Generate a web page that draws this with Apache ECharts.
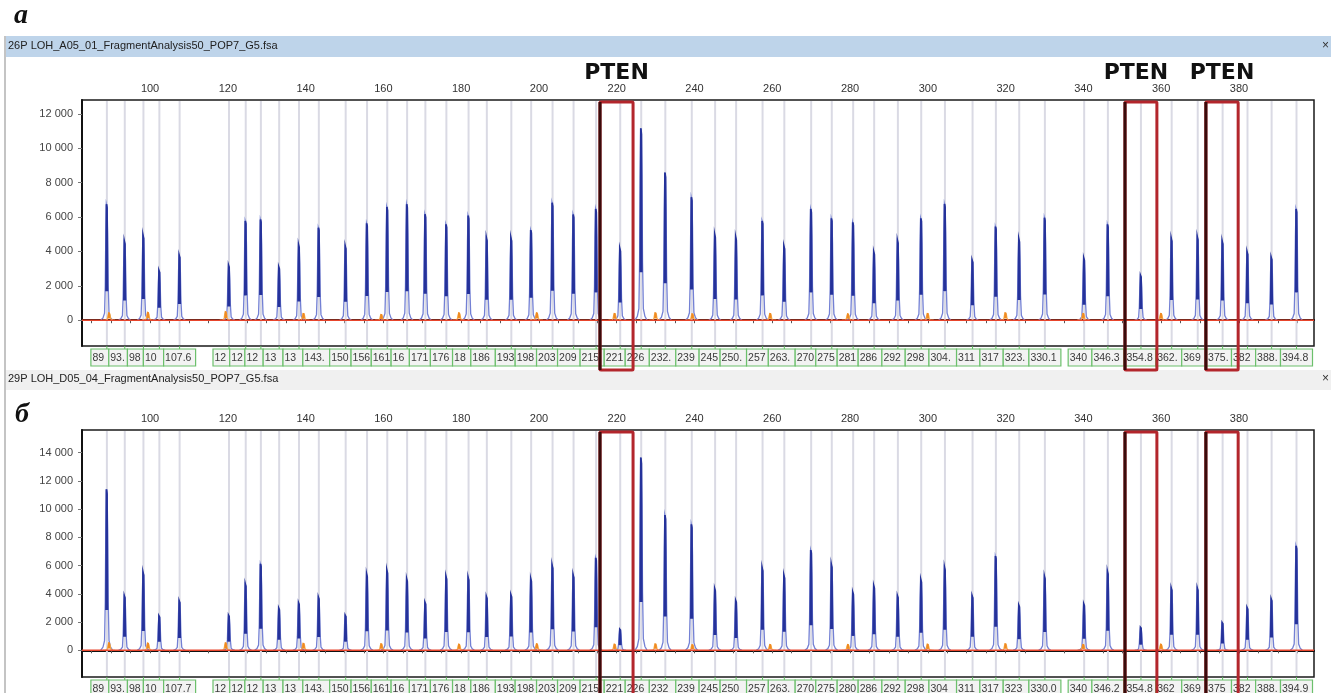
<!DOCTYPE html>
<html><head><meta charset="utf-8">
<script src="https://cdn.jsdelivr.net/npm/echarts@6/dist/echarts.min.js"></script>
<style>html,body{margin:0;padding:0;background:#fff;}#c{width:1331px;height:693px;}</style>
</head><body><div id="c"></div>
<script>
// ---- data ----
const sizes = [88.9, 93.5, 98.3, 102.4, 107.6, 120.3, 124.6, 128.5, 133.2, 138.3, 143.4, 150.3, 155.8, 161.0, 166.1, 170.8, 176.2, 181.9, 186.6, 192.9, 198.0, 203.5, 208.9, 214.7, 220.9, 226.3, 232.5, 239.3, 245.3, 250.7, 257.5, 263.1, 270.0, 275.3, 280.8, 286.2, 292.3, 298.3, 304.4, 311.5, 317.5, 323.5, 330.1, 340.2, 346.3, 354.8, 362.7, 369.4, 375.8, 382.2, 388.4, 394.8];
const heightsA = [6740, 4560, 4910, 2870, 3750, 3160, 5770, 5860, 3070, 4350, 5380, 4270, 5630, 6580, 6740, 6160, 5570, 6080, 4760, 4760, 5240, 6830, 6150, 6470, 4140, 11160, 8580, 7150, 4950, 4800, 5770, 4270, 6470, 5920, 5690, 3940, 4600, 5920, 6760, 3460, 5440, 4700, 5960, 3590, 5570, 2580, 4720, 4810, 4560, 3940, 3630, 6470];
const heightsB = [11400, 3830, 5490, 2410, 3480, 2460, 4660, 6120, 2960, 3340, 3740, 2460, 5370, 5630, 5020, 3360, 5200, 5130, 3780, 3900, 5040, 5980, 5300, 6550, 1470, 13650, 9580, 8920, 4330, 3500, 5800, 5270, 7100, 6030, 4090, 4540, 3830, 4970, 5840, 3830, 6670, 3170, 5200, 3260, 5540, 1610, 4380, 4380, 1940, 3000, 3600, 7400];
const labelsA = ['89','93.','98','10','107.6','12','12','12','13','13','143.','150','156','161','166','171','176','18','186','193','198','203','209','215','221','226','232.','239','245','250.','257','263.','270','275','281','286','292','298','304.','311','317','323.','330.1','340','346.3','354.8','362.','369','375.','382','388.','394.8'];
const labelsB = ['89','93.','98','10','107.7','12','12','12','13','13','143.','150','156','161','16','171','176','18','186','193','198','203','209','215','221','226','232','239','245','250','257','263.','270','275','280','286','292','298','304','311','317','323','330.0','340','346.2','354.8','362','369','375','382','388.','394.9'];
const stdSizes = [89.5, 99.5, 119.5, 139.5, 159.5, 179.5, 199.5, 219.5, 230.0, 239.5, 259.5, 279.5, 300.0, 320.0, 340.0, 360.0];
const stdA = [420, 450, 480, 380, 320, 420, 420, 380, 420, 360, 380, 360, 380, 420, 380, 380];
const stdB = [520, 500, 520, 480, 450, 420, 450, 420, 440, 380, 400, 400, 420, 450, 400, 420];
const ptenBoxes = [[215.7, 224.2], [350.7, 358.9], [371.5, 379.8]];
const ptenNames = ['PTEN', 'PTEN', 'PTEN'];
const xTicks = [100, 120, 140, 160, 180, 200, 220, 240, 260, 280, 300, 320, 340, 360, 380];
const xMinorTicks = [85,90,95,100,105,110,115,120,125,130,135,140,145,150,155,160,165,170,175,180,185,190,195,200,205,210,215,220,225,230,235,240,245,250,255,260,265,270,275,280,285,290,295,300,305,310,315,320,325,330,335,340,345,350,355,360,365,370,375,380,385,390,395];
const yTicksA = [0, 2000, 4000, 6000, 8000, 10000, 12000];
const yTicksB = [0, 2000, 4000, 6000, 8000, 10000, 12000, 14000];
const titleA = '26P LOH_A05_01_FragmentAnalysis50_POP7_G5.fsa';
const titleB = '29P LOH_D05_04_FragmentAnalysis50_POP7_G5.fsa';

// ---- rendering ----
const chart = echarts.init(document.getElementById('c'), null, {renderer: 'canvas'});
const FONT = '"Liberation Sans", Arial, sans-serif';
const fmt = v => String(v).replace(/\B(?=(\d{3})+(?!\d))/g, ' ');

const peakShape = [[-1.6,0],[-1.0,0.02],[-0.6,0.06],[-0.42,0.3],[-0.28,0.75],[-0.14,1],[0.06,0.97],[0.2,0.75],[0.34,0.3],[0.55,0.06],[0.95,0.02],[1.5,0]];
const coreShape = [[-0.22,0.25],[-0.1,1],[0.03,0.97],[0.15,0.25]];
function peakRenderer(light, dark, lw) {
  return function (params, api) {
    const p = api.value(0), h = api.value(1);
    const pts = peakShape.map(d => api.coord([p + d[0], d[1] * h]));
    const core = coreShape.map(d => api.coord([p + d[0], d[1] * h]));
    return {type: 'group', children: [
      {type: 'polyline', shape: {points: pts}, style: {stroke: light, fill: null, lineWidth: 1.3}},
      {type: 'polyline', shape: {points: core}, style: {stroke: dark, fill: null, lineWidth: lw}}
    ]};
  };
}
function vlineRenderer(params, api) {
  const x = api.coord([api.value(0), 0])[0];
  const cs = params.coordSys;
  return {type: 'line', shape: {x1: x, y1: cs.y + 1, x2: x, y2: cs.y + cs.height - 1},
    style: {stroke: '#DADAE4', lineWidth: 2}};
}
function labelRenderer(labels) {
  return function (params, api) {
    const i = api.value(2);
    const cs = params.coordSys;
    const x = api.coord([sizes[i], 0])[0];
    const half = 16;
    let left = x - half, right = x + half;
    if (i + 1 < sizes.length) {
      const xn = api.coord([sizes[i + 1], 0])[0];
      right = Math.min(right, xn - half);
    }
    const top = cs.y + cs.height + 3, h = 17;
    return {type: 'group', children: [
      {type: 'line', shape: {x1: x, y1: cs.y + cs.height, x2: x, y2: top}, style: {stroke: '#5DB85D', lineWidth: 1}},
      {type: 'rect', shape: {x: left, y: top, width: right - left, height: h},
        style: {fill: '#F3F3F3', stroke: '#6CC06C', lineWidth: 1.2}},
      {type: 'text', x: left + 1.5, y: top + h / 2 + 0.5,
        style: {text: labels[i], fill: '#3a3a3a', font: '10.5px ' + FONT, verticalAlign: 'middle', align: 'left',
          width: right - left, overflow: 'truncate', ellipsis: ''}}
    ]};
  };
}
function boxRenderer(withText) {
  return function (params, api) {
    const cs = params.coordSys;
    const i = api.value(2);
    const x1 = api.coord([api.value(0), 0])[0];
    const x2 = api.coord([api.value(1), 0])[0];
    const top = cs.y + 2, bottom = cs.y + cs.height + 24;
    const ch = [
      {type: 'rect', shape: {x: x1, y: top, width: x2 - x1, height: bottom - top, r: 1},
        style: {fill: null, stroke: '#B3262C', lineWidth: 3}},
      {type: 'line', shape: {x1: x1, y1: top, x2: x1, y2: bottom}, style: {stroke: '#3A0B0B', lineWidth: 3}}
    ];
    if (withText) {
      ch.push({type: 'text', x: (x1 + x2) / 2 - (i === 1 ? 5 : 0), y: cs.y - 27,
        style: {text: ptenNames[i], fill: '#111', font: 'bold 22px "DejaVu Sans", sans-serif', align: 'center', verticalAlign: 'middle'}});
    }
    return {type: 'group', children: ch};
  };
}

const grids = [
  {left: 82, right: 17, top: 100, bottom: 347, show: true, borderColor: '#1a1a1a', borderWidth: 1.5},
  {left: 82, right: 17, top: 430, bottom: 16, show: true, borderColor: '#1a1a1a', borderWidth: 1.5}
];
function xAxis(g) {
  return {gridIndex: g, type: 'value', position: 'top', min: 82.5, max: 399.3,
    axisLine: {show: true, lineStyle: {color: '#111', width: 2}},
    axisTick: {show: true, inside: true, length: 3, customValues: xMinorTicks, lineStyle: {color: '#555'}},
    axisLabel: {customValues: xTicks, color: '#333', fontSize: 11, fontFamily: FONT, margin: 6},
    splitLine: {show: false}};
}
function yAxis(g, min, max, ticks) {
  return {gridIndex: g, type: 'value', min: min, max: max,
    axisLine: {show: true, lineStyle: {color: '#111', width: 2}},
    axisTick: {show: true, length: 4, customValues: ticks, lineStyle: {color: '#777'}},
    axisLabel: {customValues: ticks, formatter: fmt, color: '#444', fontSize: 11, fontFamily: FONT, margin: 9},
    splitLine: {show: false}};
}

function panelSeries(g, heights, labels, std, withText) {
  return [
    {type: 'custom', xAxisIndex: g, yAxisIndex: g, z: 1, silent: true, clip: false,
      data: sizes.map(s => [s, 0]), encode: {x: 0, y: 1}, renderItem: vlineRenderer},
    {type: 'custom', xAxisIndex: g, yAxisIndex: g, z: 3, silent: true,
      data: sizes.map((s, i) => [s, heights[i]]), encode: {x: 0, y: 1}, renderItem: peakRenderer('#7380D4', '#25329A', 1.8)},
    {type: 'custom', xAxisIndex: g, yAxisIndex: g, z: 4, silent: true,
      data: stdSizes.map((s, i) => [s, std[i]]), encode: {x: 0, y: 1}, renderItem: peakRenderer('#F6B050', '#F08A20', 1.4)},
    {type: 'line', xAxisIndex: g, yAxisIndex: g, z: 5, silent: true, symbol: 'none',
      data: [[82.5, 0], [399.3, 0]], lineStyle: {color: '#E8452C', width: 1.6}},
    {type: 'custom', xAxisIndex: g, yAxisIndex: g, z: 6, silent: true, clip: false,
      data: sizes.map((s, i) => [s, 0, i]), encode: {x: 0, y: 1}, renderItem: labelRenderer(labels)},
    {type: 'custom', xAxisIndex: g, yAxisIndex: g, z: 10, silent: true, clip: false,
      data: ptenBoxes.map((b, i) => [b[0], b[1], i]), encode: {x: [0, 1]}, renderItem: boxRenderer(withText)}
  ];
}

const option = {
  animation: false,
  backgroundColor: '#fff',
  grid: grids,
  xAxis: [xAxis(0), xAxis(1)],
  yAxis: [yAxis(0, -1500, 12800, yTicksA), yAxis(1, -1890, 15600, yTicksB)],
  graphic: [
    {type: 'rect', left: 5, top: 36, shape: {width: 1326, height: 21}, style: {fill: '#BED4EA'}, z: 0},
    {type: 'rect', left: 5, top: 370, shape: {width: 1326, height: 20}, style: {fill: '#F0F0F0'}, z: 0},
    {type: 'rect', left: 4, top: 36, shape: {width: 2, height: 657}, style: {fill: '#C4C4C4'}, z: 0},
    {type: 'text', left: 8, top: 40, style: {text: titleA, fill: '#222', font: '11px ' + FONT}},
    {type: 'text', left: 8, top: 373, style: {text: titleB, fill: '#222', font: '11px ' + FONT}},
    {type: 'text', right: 2, top: 40, style: {text: '×', fill: '#333', font: '12px ' + FONT}},
    {type: 'text', right: 2, top: 373, style: {text: '×', fill: '#333', font: '12px ' + FONT}},
    {type: 'text', left: 14, top: 2, style: {text: 'а', fill: '#111', font: 'italic bold 28px "Liberation Serif", serif'}},
    {type: 'text', left: 15, top: 401, style: {text: 'б', fill: '#111', font: 'italic bold 28px "Liberation Serif", serif'}}
  ],
  series: [].concat(panelSeries(0, heightsA, labelsA, stdA, true), panelSeries(1, heightsB, labelsB, stdB, false))
};
chart.setOption(option);
</script>
</body></html>
